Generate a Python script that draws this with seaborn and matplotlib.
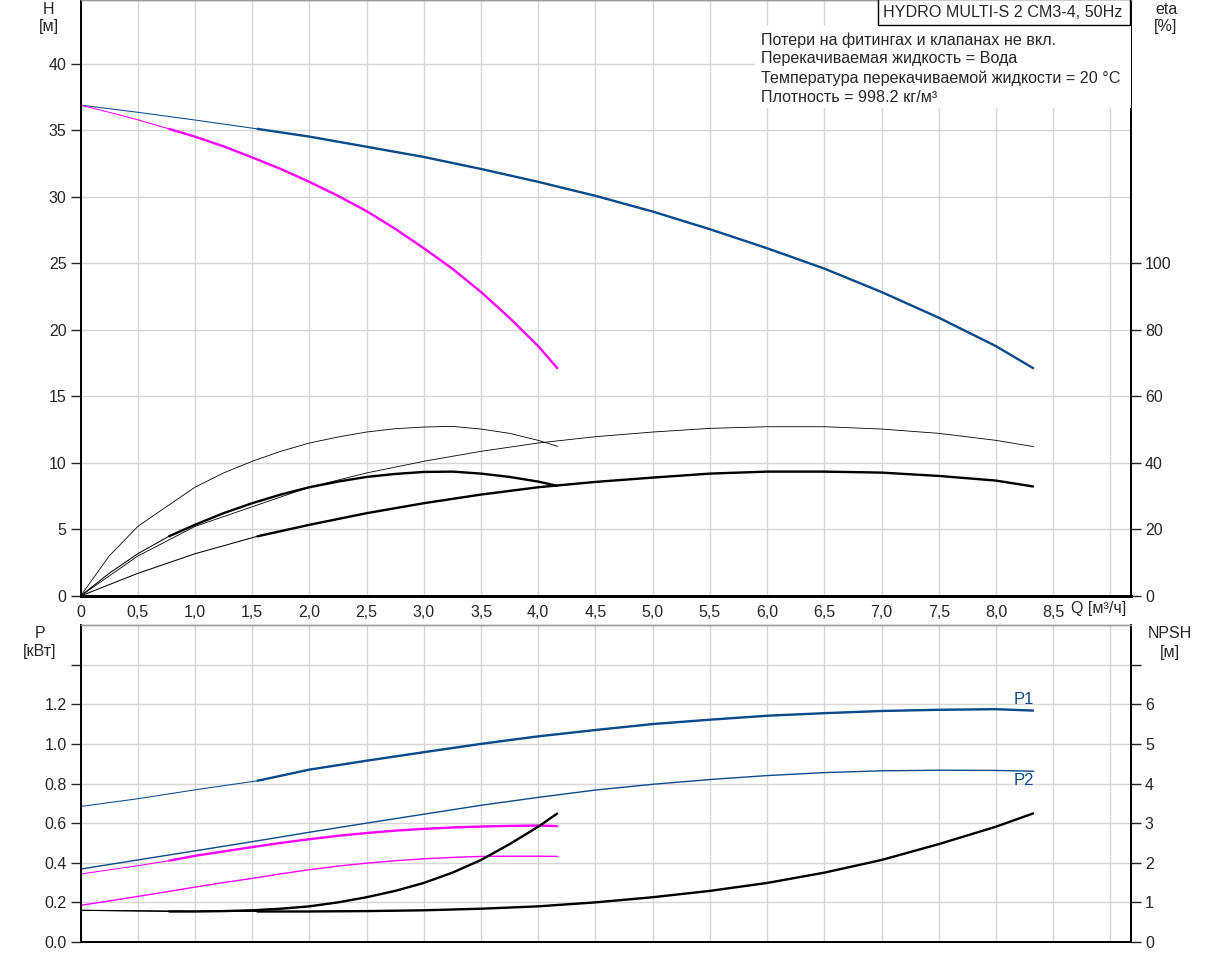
import matplotlib
matplotlib.use('Agg')
import matplotlib.pyplot as plt
from matplotlib.patches import Rectangle
import numpy as np
import seaborn as sns

# flow points [m3/h]: two pumps running / one pump running
q_two = [0, 0.5, 1.0, 1.54, 2.0, 2.5, 3.0, 3.5, 4.0, 4.5, 5.0, 5.5, 6.0, 6.5, 7.0, 7.5, 8.0, 8.33]
q_one = [0, 0.25, 0.5, 0.77, 1.0, 1.25, 1.5, 1.75, 2.0, 2.25, 2.5, 2.75, 3.0, 3.25, 3.5, 3.75, 4.0, 4.17]

# head [m]
h_two = [36.9, 36.36, 35.78, 35.12, 34.53, 33.77, 33.0, 32.1, 31.13, 30.08, 28.9, 27.57, 26.14, 24.61, 22.85, 20.92, 18.78, 17.1]
h_one = [36.9, 36.36, 35.8, 35.12, 34.53, 33.8, 32.97, 32.1, 31.13, 30.08, 28.93, 27.6, 26.14, 24.6, 22.85, 20.9, 18.78, 17.1]

# efficiency [%] - thin upper curve and thick curve
eta_up_two = [0, 12.0, 20.9, 27.3, 32.7, 37.0, 40.5, 43.5, 46.0, 47.9, 49.3, 50.4, 50.9, 50.9, 50.2, 48.9, 46.8, 44.9]
eta_up_one = [0, 12.0, 20.9, 27.3, 32.7, 37.0, 40.5, 43.5, 46.0, 47.8, 49.3, 50.3, 50.8, 51.0, 50.2, 48.9, 46.8, 45.0]
eta_two = [0, 6.8, 12.7, 17.9, 21.4, 24.9, 27.9, 30.5, 32.7, 34.3, 35.6, 36.8, 37.4, 37.4, 37.1, 36.1, 34.7, 32.9]
eta_one = [0, 6.8, 12.7, 17.9, 21.4, 24.9, 27.9, 30.5, 32.7, 34.4, 35.8, 36.7, 37.3, 37.4, 36.8, 35.8, 34.4, 33.1]

# power [kW]
p1_two = [0.684, 0.723, 0.768, 0.813, 0.87, 0.915, 0.958, 1.0, 1.038, 1.07, 1.10, 1.122, 1.142, 1.155, 1.166, 1.172, 1.175, 1.168]
p2_two = [0.368, 0.414, 0.46, 0.51, 0.554, 0.60, 0.645, 0.69, 0.73, 0.767, 0.796, 0.82, 0.84, 0.855, 0.864, 0.867, 0.866, 0.862]
p1_one = [0.343, 0.364, 0.385, 0.41, 0.435, 0.457, 0.479, 0.50, 0.519, 0.536, 0.55, 0.562, 0.571, 0.578, 0.583, 0.586, 0.588, 0.585]
p2_one = [0.185, 0.207, 0.230, 0.255, 0.277, 0.30, 0.321, 0.344, 0.365, 0.383, 0.398, 0.41, 0.42, 0.427, 0.432, 0.433, 0.433, 0.432]

# NPSH [m]
npsh_two = [0.80, 0.79, 0.78, 0.77, 0.77, 0.78, 0.80, 0.84, 0.90, 1.0, 1.13, 1.29, 1.49, 1.75, 2.07, 2.47, 2.91, 3.25]
npsh_one = [0.80, 0.79, 0.78, 0.77, 0.77, 0.78, 0.80, 0.84, 0.90, 1.0, 1.13, 1.29, 1.49, 1.75, 2.07, 2.47, 2.91, 3.25]

title = 'HYDRO MULTI-S 2 CM3-4, 50Hz'
info = ['Потери на фитингах и клапанах не вкл.',
        'Перекачиваемая жидкость = Вода',
        'Температура перекачиваемой жидкости = 20 °C',
        'Плотность = 998.2 кг/м³']

sns.set_style('white')
plt.rcParams['font.family'] = ['Liberation Sans', 'DejaVu Sans']
plt.rcParams['font.size'] = 11.5

BLUE = '#0a4a8a'
MAG = '#ff00ff'
GRID = '#d6d6d6'
THICK = 1.7
THIN = 0.75
START = 3  # index where the thick (operating) part begins
FS = 11.5  # tick / caption size
FS_INFO = 11.6

W, H = 1209, 955
fig = plt.figure(figsize=(W / 100, H / 100), dpi=100)
L, R = 80.5, 1131
ax_h = fig.add_axes([L / W, 1 - 596 / H, (R - L) / W, 596 / H])
ax_p = fig.add_axes([L / W, 1 - 942 / H, (R - L) / W, 317 / H])
ax_eta = ax_h.twinx()
ax_npsh = ax_p.twinx()

QMAX = 9.18
HMAX = 44.8


def curve(ax, q, v, color, start=START, thin=THIN, thick=THICK, full_thin=False):
    sns.lineplot(x=q, y=v, ax=ax, color=color, linewidth=thin)
    if not full_thin:
        sns.lineplot(x=q[start:], y=v[start:], ax=ax, color=color, linewidth=thick,
                     solid_capstyle='butt')


# --- top: head + efficiency
curve(ax_h, q_two, h_two, BLUE)
curve(ax_h, q_one, h_one, MAG)
curve(ax_eta, q_two, eta_up_two, 'black', thin=0.6, full_thin=True)
curve(ax_eta, q_one, eta_up_one, 'black', thin=0.6, full_thin=True)
curve(ax_eta, q_two, eta_two, 'black')
curve(ax_eta, q_one, eta_one, 'black')

# --- bottom: power + NPSH
curve(ax_p, q_two, p1_two, BLUE)
curve(ax_p, q_two, p2_two, BLUE, thin=1.0, full_thin=True)
curve(ax_p, q_one, p1_one, MAG)
curve(ax_p, q_one, p2_one, MAG, thin=1.0, full_thin=True)
curve(ax_npsh, q_two, npsh_two, 'black')
curve(ax_npsh, q_one, npsh_one, 'black')

ax_p.text(8.33, 1.222, 'P1', color=BLUE, ha='right', va='center', fontsize=12)
ax_p.text(8.33, 0.813, 'P2', color=BLUE, ha='right', va='center', fontsize=12)

xt = np.arange(0, 9.01, 0.5)
xl = ['0' if v == 0 else ('%.1f' % v).replace('.', ',') for v in xt]
xl[-1] = ''

for ax in (ax_h, ax_p):
    ax.set_xlim(0, QMAX)
    ax.set_xticks(xt)
    ax.grid(True, color=GRID, linewidth=1)
    ax.set_axisbelow(True)
    ax.set_xlabel('')
    ax.set_ylabel('')

ax_h.set_xticklabels(xl)
ax_h.tick_params(axis='x', direction='out', length=5, width=1, pad=1.5, labelsize=FS)
ax_p.set_xticklabels([])
ax_p.tick_params(axis='x', length=0)

ax_h.set_ylim(0, HMAX)
ax_h.set_yticks(range(0, 41, 5))
ax_eta.set_ylim(0, HMAX * 4)
ax_eta.set_yticks(range(0, 101, 20))
ax_eta.grid(False)

ax_p.set_ylim(0, 1.6)
pt = np.arange(0, 1.41, 0.2)
ax_p.set_yticks(pt)
ax_p.set_yticklabels(['%.1f' % v for v in pt[:-1]] + [''])
ax_npsh.set_ylim(0, 8)
ax_npsh.set_yticks(range(0, 8))
ax_npsh.set_yticklabels([str(v) for v in range(7)] + [''])
ax_npsh.grid(False)

for ax in (ax_h, ax_eta, ax_p, ax_npsh):
    ax.tick_params(axis='y', direction='out', length=7, width=1, pad=3, labelsize=FS)
    ax.set_ylabel('')
    for side in ('left', 'right'):
        ax.spines[side].set_color('black')
        ax.spines[side].set_linewidth(1.3)
    ax.spines['top'].set_color('#9a9a9a')
    ax.spines['top'].set_linewidth(1)
    ax.spines['bottom'].set_color('black')
    ax.spines['bottom'].set_linewidth(2 if ax in (ax_h, ax_eta) else 1.3)

# title box and info block (white background hides the grid)
ax_eta.add_patch(Rectangle(((755 - L) / (R - L), 1 - 108 / 596), (R - 755) / (R - L), 82 / 596,
                           transform=ax_eta.transAxes, fc='white', ec='none', zorder=3))
ax_eta.add_patch(Rectangle(((878 - L) / (R - L), 1 - 25 / 596), (R - 1.5 - 878) / (R - L), 26 / 596,
                           transform=ax_eta.transAxes, fc='white', ec='black', lw=1,
                           zorder=4, clip_on=False))
fig.text(1003 / W, 1 - 12.5 / H, title, ha='center', va='center', fontsize=FS_INFO)
for i, line in enumerate(info):
    fig.text(761 / W, 1 - (40 + 19 * i) / H, line, ha='left', va='center', fontsize=FS_INFO)

# axis captions
fig.text(1071 / W, 1 - 608 / H, 'Q [м³/ч]', ha='left', va='center', fontsize=FS)
for x, y, s in [(49, 9, 'H'), (49, 27, '[м]'), (1166, 9, 'eta'), (1166, 26, '[%]'),
                (40, 633, 'P'), (40, 651, '[кВт]'), (1170, 633, 'NPSH'), (1170, 652, '[м]')]:
    fig.text(x / W, 1 - y / H, s, ha='center', va='center', fontsize=FS)

fig.savefig('out.png', dpi=100)
